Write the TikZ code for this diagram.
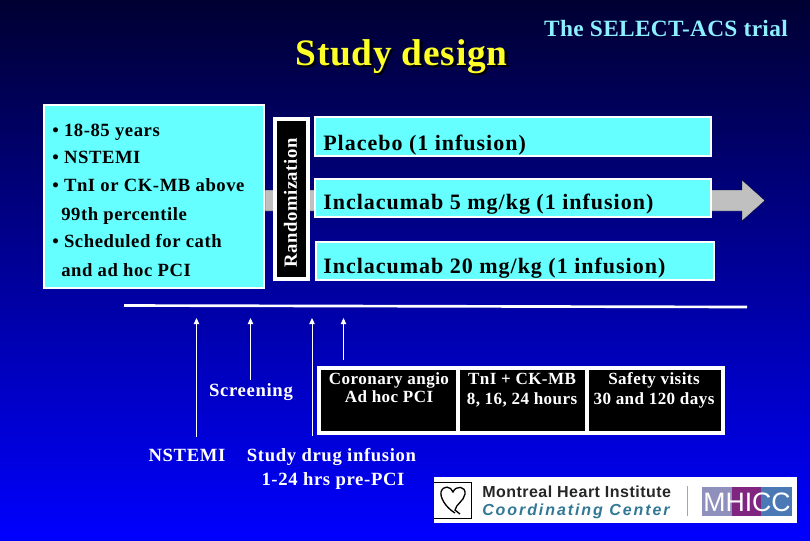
\documentclass[tikz,border=0pt]{standalone}
\usepackage{fontspec}
\setmainfont{Liberation Serif}
\setsansfont{Liberation Sans}
\usetikzlibrary{arrows.meta}
\definecolor{navy}{RGB}{0,0,50}
\definecolor{brightblue}{RGB}{0,0,255}
\definecolor{cyanfill}{RGB}{102,255,255}
\definecolor{lightcyan}{RGB}{140,240,255}
\definecolor{titley}{RGB}{255,255,40}
\definecolor{greyarrow}{RGB}{192,192,192}
\definecolor{logoteal}{RGB}{50,120,150}
\newcommand{\spfont}[2]{\bfseries\fontsize{#1pt}{#1pt}\selectfont\addfontfeatures{LetterSpace=#2}}
\tikzset{
  x=0.75pt,y=-0.75pt,
  cyanbox/.style={draw=white,line width=1.6pt,fill=cyanfill},
  blackbox/.style={draw=white,line width=2.6pt,fill=black},
  bodytext/.style={font=\spfont{14}{3},text=black,anchor=base west,inner sep=0pt},
  armtext/.style={font=\spfont{16.5}{4.5},text=black,anchor=base west,inner sep=0pt},
  whitetext/.style={font=\spfont{12.8}{2.5},text=white,anchor=base,inner sep=0pt},
  lowtext/.style={font=\spfont{14}{3.5},text=white,anchor=base,inner sep=0pt},
  upline/.style={draw=white,line width=0.7pt,-{Triangle[length=4.5pt,width=4pt]}},
}
\begin{document}
\begin{tikzpicture}
\useasboundingbox (0,0) rectangle (810,540);
\shade[top color=navy,bottom color=brightblue] (0,0) rectangle (810,540);

% title, with its shadow set inside the same node
\node[anchor=base,inner sep=0pt,font=\spfont{28}{2},text=titley] (title) at (401.5,65) {\rlap{\kern1.8pt\raisebox{-1.8pt}{\color{black}Study design}}Study design};
\node[anchor=base,inner sep=0pt,font=\spfont{17.5}{1.5},text=lightcyan] (trial) at (666,36) {The SELECT-ACS trial};

% grey arrow
\fill[greyarrow,draw=navy,line width=0.3pt] (265,190) -- (742,190) -- (742,180) -- (765,200.5) -- (742,221) -- (742,211) -- (265,211) -- cycle;

% inclusion box
\draw[cyanbox] (44,105) rectangle (264,288);
\node[bodytext] (l1) at (52,136) {• 18-85 years};
\node[bodytext] (l2) at (52,163.5) {• NSTEMI};
\node[bodytext] (l3) at (52,191) {• TnI or CK-MB above};
\node[bodytext] (l4) at (61,220) {99th percentile};
\node[bodytext] (l5) at (52,247) {• Scheduled for cath};
\node[bodytext] (l6) at (61,276) {and ad hoc PCI};

% randomization
\draw[blackbox] (275,119) rectangle (308,279);
\node[font=\spfont{14}{3},text=white,rotate=90,inner sep=0pt] (rand) at (290.5,203) {Randomization};

% arms
\draw[cyanbox] (315,117) rectangle (711,156);
\draw[cyanbox] (315,179) rectangle (711,217);
\draw[cyanbox] (316,242) rectangle (714,280);
\node[armtext] (a1) at (323,150) {Placebo (1 infusion)};
\node[armtext] (a2) at (323,209) {Inclacumab 5 mg/kg (1 infusion)};
\node[armtext] (a3) at (323,273) {Inclacumab 20 mg/kg (1 infusion)};

% timeline
\coordinate (tla) at (124,305.5);
\coordinate (tlb) at (747,307);
\draw[white,line width=2pt] (tla) -- (tlb);

% arrows
\coordinate (u1a) at (196.5,437); \coordinate (u1b) at (196.5,318);
\coordinate (u2a) at (250.5,380); \coordinate (u2b) at (250.5,318);
\coordinate (u3a) at (312,436);   \coordinate (u3b) at (312,318);
\coordinate (u4a) at (343.5,360); \coordinate (u4b) at (343.5,318);
\draw[upline] (u1a) -- (u1b);
\draw[upline] (u2a) -- (u2b);
\draw[upline] (u3a) -- (u3b);
\draw[upline] (u4a) -- (u4b);

% black table
\draw[blackbox] (319,368) rectangle (723,433);
\draw[white,line width=2.6pt] (458,368) -- (458,433);
\draw[white,line width=2.6pt] (587,368) -- (587,433);
\node[whitetext] (c1a) at (389,384) {Coronary angio};
\node[whitetext] (c1b) at (389,402) {Ad hoc PCI};
\node[whitetext] (c2a) at (522,384) {TnI + CK-MB};
\node[whitetext] (c2b) at (522,404) {8, 16, 24 hours};
\node[whitetext] (c3a) at (654,384) {Safety visits};
\node[whitetext] (c3b) at (654,404) {30 and 120 days};

% lower labels
\node[lowtext] (scr) at (251,396) {Screening};
\node[lowtext] (nst) at (187,461) {NSTEMI};
\node[lowtext] (sd1) at (331.5,461) {Study drug infusion};
\node[lowtext] (sd2) at (333,485) {1-24 hrs pre-PCI};

% logo
\fill[white] (434,477) rectangle (797,523);
\draw[black,line width=0.6pt] (434,482) -- (471,482) -- (471,518) -- (434,518);
\draw[black,line width=1pt] (455,513) .. controls (445,507) and (440,497) .. (441,492) .. controls (443,485) and (451,486) .. (453,492) .. controls (456,485) and (466,486) .. (465,494) .. controls (464,501) and (456,504) .. (455,510) -- (460,514);
\node[anchor=base west,inner sep=0pt,font=\sffamily\spfont{12}{3},text=black!85] (logo1) at (482,497) {Montreal Heart Institute};
\node[anchor=base west,inner sep=0pt,font=\sffamily\itshape\spfont{12}{12},text=logoteal] (logo2) at (482,515) {Coordinating Center};
\draw[gray!70,line width=0.5pt] (687,486) -- (687,516);
\fill[blue!25!gray!70] (702,487) rectangle (732,516);
\fill[violet!70!gray] (732,487) rectangle (761,516);
\fill[cyan!50!blue!70!gray] (761,487) rectangle (792,516);
\node[anchor=center,inner sep=0pt,font=\sffamily\fontsize{20pt}{22pt}\selectfont,text=white] (logo3) at (747,502) {MHICC};
\end{tikzpicture}
\end{document}
